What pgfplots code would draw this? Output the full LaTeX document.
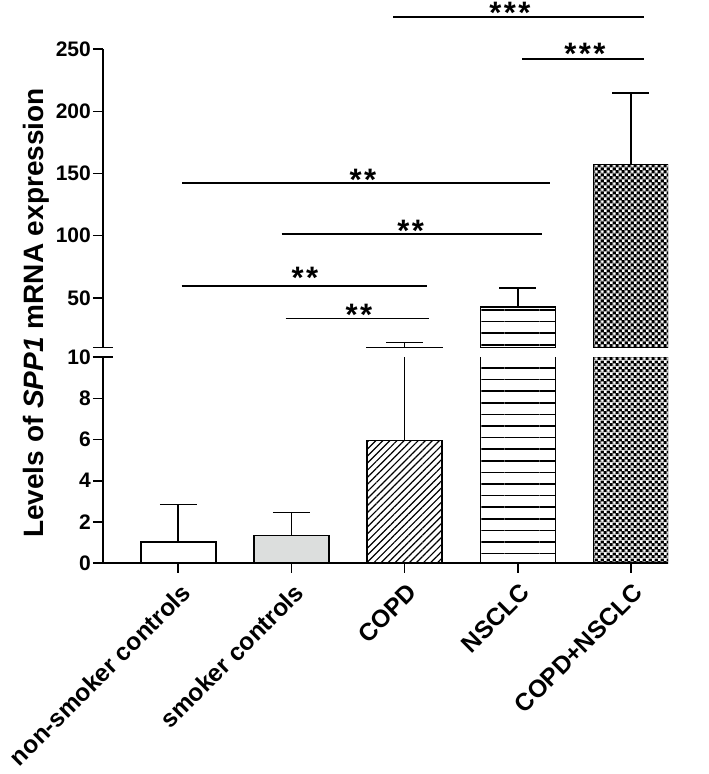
\documentclass[border=0pt]{standalone}
\usepackage{pgfplots}
\pgfplotsset{compat=1.18}
\usepackage{fontspec}
\setmainfont{Liberation Sans}
\usetikzlibrary{patterns,patterns.meta}

% checkerboard: black tile with two white holes (even-odd)
\pgfdeclarepatternformonly{checker}{\pgfpointorigin}{\pgfqpoint{6.2pt}{6.2pt}}{\pgfqpoint{6.2pt}{6.2pt}}{%
 \pgfseteorule
 \pgfpathrectangle{\pgfpointorigin}{\pgfqpoint{6.2pt}{6.2pt}}%
 \pgfpathrectangle{\pgfqpoint{0.15pt}{0.15pt}}{\pgfqpoint{2.8pt}{2.8pt}}%
 \pgfpathrectangle{\pgfqpoint{3.25pt}{3.25pt}}{\pgfqpoint{2.8pt}{2.8pt}}%
 \pgfusepath{fill}}

\definecolor{smokergray}{HTML}{DCDEDD}

\tikzset{sig/.style={font=\fontsize{31}{31}\selectfont\bfseries, anchor=base, yshift=-13.3pt, inner sep=0pt}}

\pgfplotsset{
 common/.style={
  scale only axis, width=565pt,
  xmin=-0.665, xmax=4.327,
  axis line style={line width=1.6pt, black},
  major tick style={line width=1.6pt, black},
  tick align=outside, major tick length=10pt,
  clip mode=individual,
  /pgf/number format/assume math mode=true,
  yticklabel style={font=\fontsize{21}{21}\selectfont\bfseries, inner sep=2pt},
  ybar, bar width=75pt,
  error bars/y dir=plus, error bars/y explicit,
  error bars/error bar style={line width=1.6pt, black},
  error bars/error mark options={rotate=90, mark size=18.5pt, line width=1.6pt, black},
 },
 b1/.style={fill=white, draw=black, line width=1.6pt, bar shift=0pt},
 b2/.style={fill=smokergray, draw=black, line width=1.6pt, bar shift=0pt},
 b3/.style={draw=black, line width=1.6pt, bar shift=0pt, pattern={Lines[angle=45,distance=5pt,line width=1.2pt]}},
 b4/.style={draw=black, line width=1.6pt, bar shift=0pt, pattern={Lines[angle=0,distance=11.6pt,line width=1.6pt]}},
 b5/.style={draw=black, line width=1.6pt, bar shift=0pt, pattern=checker, pattern color=black},
}

\begin{document}
\begin{tikzpicture}
\path[use as bounding box] (0,0) rectangle (709pt,774pt);

% lower segment 0-10
\begin{axis}[common, at={(103pt,211pt)}, anchor=south west, height=205.7pt,
  ymin=0, ymax=10,
  axis x line*=bottom, axis y line*=left,
  xtick={0,1,2,3,4},
  xticklabels={non-smoker controls,smoker controls,COPD,NSCLC,COPD+NSCLC},
  xticklabel style={rotate=45, anchor=north east, xshift=-2pt, yshift=-4pt, font=\fontsize{24.5}{24.5}\selectfont\bfseries},
  ytick={0,2,4,6,8,10}]
\addplot[b1] coordinates {(0,1.02) +- (0,1.83)};
\addplot[b2] coordinates {(1,1.33) +- (0,1.13)};
\addplot[b3] coordinates {(2,5.95) +- (0,7.95)};
\addplot[b4] coordinates {(3,42.6) +- (0,15.5)};
\addplot[b5] coordinates {(4,157.4) +- (0,57.2)};
\draw[line width=1.6pt] ([xshift=-10pt]rel axis cs:0,1) -- ([xshift=10pt]rel axis cs:0,1);
\end{axis}

% upper segment 10-250
\begin{axis}[common, at={(103pt,426.5pt)}, anchor=south west, height=298.2pt,
  ymin=10, ymax=250,
  axis y line*=left, axis x line=none,
  ytick={50,100,150,200,250}]
\addplot[b3] coordinates {(2,5.95) +- (0,7.95)};
\addplot[b4] coordinates {(3,42.6) +- (0,15.5)};
\addplot[b5] coordinates {(4,157.4) +- (0,57.2)};
\draw[line width=1.6pt] ([xshift=-10pt]rel axis cs:0,0) -- ([xshift=10pt]rel axis cs:0,0);
% significance brackets
\draw[line width=1.6pt] (axis cs:0.949,33.2) -- (axis cs:2.218,33.2);
\node[sig] at (axis cs:1.596,38.6) {*\kern2.4pt*};
\draw[line width=1.6pt] (axis cs:0.030,59.7) -- (axis cs:2.194,59.7);
\node[sig] at (axis cs:1.119,68.1) {*\kern2.4pt*};
\draw[line width=1.6pt] (axis cs:0.913,101.3) -- (axis cs:3.216,101.3);
\node[sig] at (axis cs:2.053,106.2) {*\kern2.4pt*};
\draw[line width=1.6pt] (axis cs:0.035,142.6) -- (axis cs:3.284,142.6);
\node[sig] at (axis cs:1.632,147.2) {*\kern2.4pt*};
\draw[line width=1.6pt] (axis cs:3.039,242.0) -- (axis cs:4.114,242.0);
\node[sig] at (axis cs:3.593,248.4) {*\kern2.4pt*\kern2.4pt*};
\draw[line width=1.6pt] (axis cs:1.899,276.2) -- (axis cs:4.114,276.2);
\node[sig] at (axis cs:2.930,281.2) {*\kern2.4pt*\kern2.4pt*};
\end{axis}

\node[rotate=90, anchor=base, font=\fontsize{28}{28}\selectfont\bfseries] at (43.3pt,461pt) {Levels of \textit{SPP1} mRNA expression};
\end{tikzpicture}
\end{document}
